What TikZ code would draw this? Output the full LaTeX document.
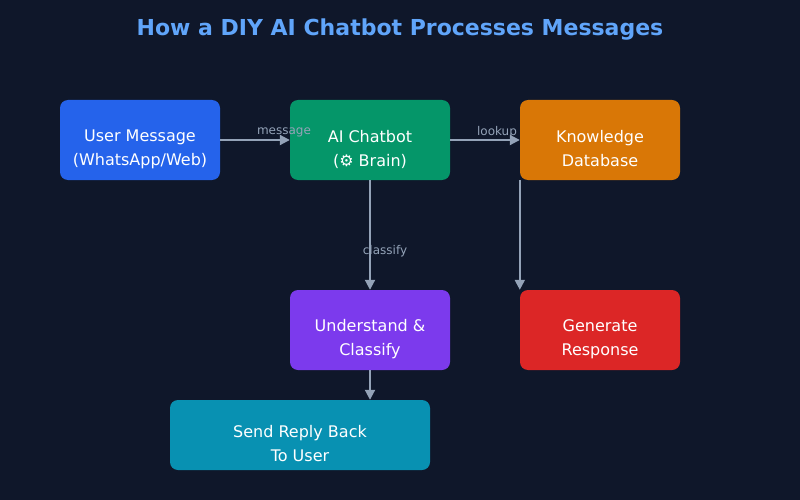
\documentclass[tikz,border=0pt]{standalone}
\usepackage{fontspec}
\setmainfont{DejaVu Sans}
\usetikzlibrary{arrows.meta}
\definecolor{bg}{HTML}{0F172A}
\definecolor{ttl}{HTML}{60A5FA}
\definecolor{ln}{HTML}{94A3B8}
\definecolor{cb}{HTML}{2563EB}
\definecolor{cg}{HTML}{059669}
\definecolor{co}{HTML}{D97706}
\definecolor{cp}{HTML}{7C3AED}
\definecolor{cr}{HTML}{DC2626}
\definecolor{cc}{HTML}{0891B2}
\begin{document}
\begin{tikzpicture}[x=1pt,y=-1pt,
  box/.style={rounded corners=8pt,minimum width=160pt,minimum height=80pt,inner sep=0pt},
  txt/.style={text=white,font=\fontsize{16}{24}\selectfont,align=center,inner sep=0pt},
  arr/.style={draw=ln,line width=2pt,-{Triangle[length=10pt,width=10pt]}},
  lab/.style={text=ln,font=\fontsize{12}{14}\selectfont}]
\fill[bg] (0,0) rectangle (800,500);
\useasboundingbox (0,0) rectangle (800,500);
\node[text=ttl,font=\bfseries\fontsize{22}{24}\selectfont] (title) at (400,30) {How a DIY AI Chatbot Processes Messages};
\node[box,fill=cb] (user) at (140,140) {};
\node[box,fill=cg] (bot) at (370,140) {};
\node[box,fill=co] (kb) at (600,140) {};
\node[box,fill=cp] (und) at (370,330) {};
\node[box,fill=cr] (gen) at (600,330) {};
\node[box,fill=cc,minimum width=260pt,minimum height=70pt] (send) at (300,435) {};
\node[txt] (tuser) at (140,149) {User Message\\(WhatsApp/Web)};
\node[txt] (tbot) at (370,149) {AI Chatbot\\(⚙ Brain)};
\node[txt] (tkb) at (600,149) {Knowledge\\Database};
\node[txt] (tund) at (370,339) {Understand \&\\Classify};
\node[txt] (tgen) at (600,339) {Generate\\Response};
\node[txt] (tsend) at (300,444) {Send Reply Back\\To User};
\draw[arr] (user) -- (bot);
\draw[arr] (bot) -- (kb);
\draw[arr] (bot) -- (und);
\draw[arr] (kb.south west) -- (gen.north west);
\draw[arr] (und) -- (und.south |- send.north);
\node[lab] (l1) at (284,132) {message};
\node[lab] (l2) at (497,132) {lookup};
\node[lab] (l3) at (385,251) {classify};
\end{tikzpicture}
\end{document}
